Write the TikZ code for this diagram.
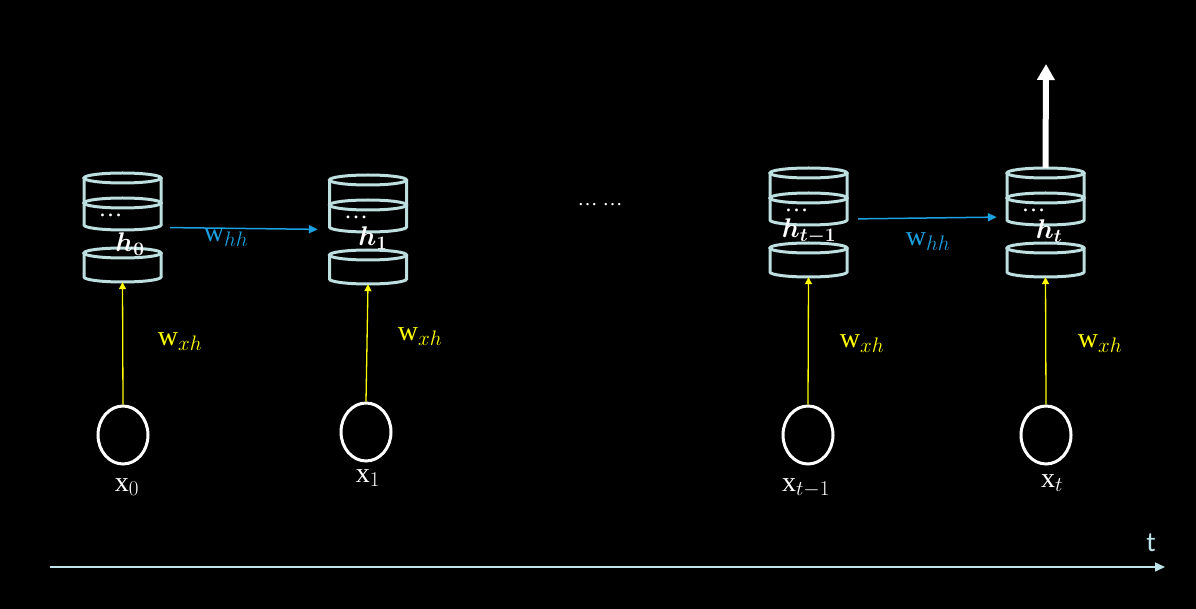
\RequirePackage{fix-cm}
\documentclass[tikz,border=0pt]{standalone}
\usepackage{fontspec}
\setmainfont{Liberation Serif}
\newfontfamily\tfont{Carlito}
\usepackage{amsmath}
\usepackage{bm}
\DeclareMathSizes{28}{28}{21}{16}
\DeclareMathSizes{27}{27}{19}{15}
\usetikzlibrary{shapes.geometric,arrows.meta}
\definecolor{cylc}{HTML}{BEDFE0}
\definecolor{bluec}{HTML}{1BA1E2}
\definecolor{yelc}{HTML}{FFFF00}
\definecolor{axisc}{HTML}{BFE3EA}
\tikzset{
  cylst/.style={draw=cylc,line width=3pt,fill=black},
  stackbox/.style={draw=none,minimum width=80pt,minimum height=109pt,inner sep=0pt},
  dotlbl/.style={text=white,font=\fontsize{24}{26}\selectfont,inner sep=0pt},
  hlbl/.style={text=white,font=\fontsize{27}{29}\selectfont,inner sep=0pt},
  wlbl/.style={font=\fontsize{28}{30}\selectfont,inner sep=0pt},
  xlbl/.style={text=white,font=\fontsize{28}{30}\selectfont,inner sep=0pt},
  inp/.style={ellipse,draw=white,line width=3pt,minimum width=50pt,minimum height=58pt,inner sep=0pt},
  yarr/.style={draw=yelc,line width=1.3pt,-{Triangle[width=7pt,length=7pt]}},
  barr/.style={draw=bluec,line width=1.5pt,-{Triangle[width=8pt,length=9pt]}},
}
\newcommand\cylpart[2]{%
  \draw[cylst] (-38.5,-#1) -- (-38.5,-#2) arc[start angle=180,end angle=360,x radius=38.5,y radius=5] -- (38.5,-#1);
  \draw[cylst] (0,-#1) ellipse[x radius=38.5,y radius=5];}
\newcommand\rnnstack[3]{%
  \begin{scope}[shift={(#2,-#3)}]
    \cylpart{0}{25}
    \cylpart{25}{47}
    \cylpart{75}{99}
    \node[stackbox] (#1) at (0,-49.5) {};
    \node[dotlbl] (#1dots) at (-12,-37) {\ldots};
  \end{scope}}
\begin{document}
\begin{tikzpicture}[x=1pt,y=1pt]
\fill[black] (0,0) rectangle (1196,-609);
\useasboundingbox (0,0) rectangle (1196,-609);

% stacks
\rnnstack{h0}{122.5}{178}
\rnnstack{h1}{368}{180}
\rnnstack{ht1}{808.5}{173}
\rnnstack{ht}{1045.5}{173}

\node[hlbl] (lh0) at (130,-244) {$\bm{h}_{\bm{0}}$};
\node[hlbl] (lh1) at (373,-238) {$\bm{h}_{\bm{1}}$};
\node[hlbl] (lht1) at (809,-231) {$\bm{h}_{\bm{t-1}}$};
\node[hlbl] (lht) at (1049,-231) {$\bm{h}_{\bm{t}}$};

% inputs
\node[inp] (c0) at (123,-435) {};
\node[inp] (c1) at (366,-432) {};
\node[inp] (ct1) at (808,-435) {};
\node[inp] (ct) at (1046,-435) {};

\node[xlbl] (lx0) at (127,-487) {x$_0$};
\node[xlbl] (lx1) at (368,-478) {x$_1$};
\node[xlbl] (lxt1) at (806,-488) {x$_{t-1}$};
\node[xlbl] (lxt) at (1052,-483) {x$_t$};

% input arrows
\draw[yarr] (c0.north) -- (h0.south);
\draw[yarr] (c1.north) -- (h1.south);
\draw[yarr] (ct1.north) -- (ht1.south);
\draw[yarr] (ct.north) -- (ht.south);

\node[wlbl,text=yelc] (wx0) at (180,-342) {w$_{xh}$};
\node[wlbl,text=yelc] (wx1) at (420,-337) {w$_{xh}$};
\node[wlbl,text=yelc] (wxt1) at (862,-344) {w$_{xh}$};
\node[wlbl,text=yelc] (wxt) at (1100,-344) {w$_{xh}$};

% recurrent arrows
\draw[barr,shorten <=7.5pt,shorten >=10pt] (h0.east) -- (h1.west);
\draw[barr,shorten <=9.5pt,shorten >=8.5pt] ([yshift=3.5pt]ht1.east) -- ([yshift=5.5pt]ht.west);
\node[wlbl,text=bluec] (wh0) at (226,-238) {w$_{hh}$};
\node[wlbl,text=bluec] (wht) at (928,-242) {w$_{hh}$};

\node[dotlbl,font=\fontsize{20}{22}\selectfont] (mid) at (600,-205) {\ldots\ \ldots};

% output arrow
\coordinate (out) at (1046,-64);
\draw[white,line width=6pt,-{Triangle[width=17pt,length=16pt]}] (ht.north) -- (out);

% time axis
\coordinate (a0) at (50,-567);
\coordinate (a1) at (1165,-567);
\draw[axisc,line width=1.5pt,-{Triangle[width=9pt,length=10pt]}] (a0) -- (a1);
\node[text=axisc,font=\tfont\fontsize{28}{30}\selectfont,inner sep=0pt] (tl) at (1151,-543) {t};
\end{tikzpicture}
\end{document}
